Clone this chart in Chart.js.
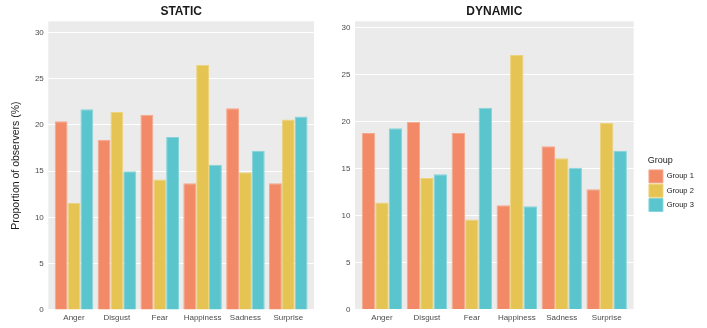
<!DOCTYPE html>
<html>
<head>
<meta charset="utf-8">
<script src="https://cdn.jsdelivr.net/npm/chart.js@4/dist/chart.umd.min.js"></script>
<style>
  body { margin: 0; background: #ffffff; }
  #wrap { position: relative; width: 707px; height: 328px; }
  canvas { position: absolute; top: 0; }
</style>
</head>
<body>
<div id="wrap">
  <canvas id="staticChart" width="330" height="328" style="left:0;width:330px;height:328px"></canvas>
  <canvas id="dynamicChart" width="377" height="328" style="left:330px;width:377px;height:328px"></canvas>
</div>
<script>
const categories = ['Anger', 'Disgust', 'Fear', 'Happiness', 'Sadness', 'Surprise'];
const groups = ['Group 1', 'Group 2', 'Group 3'];
const groupColors = ['#F28A68', '#E5C453', '#5BC5CD'];
const groupBorders = ['#F6A88C', '#EDD37D', '#86D4DA'];

const staticG1 = [20.4, 18.4, 21.1, 13.7, 21.8, 13.7];
const staticG2 = [11.6, 21.4, 14.1, 26.5, 14.9, 20.6];
const staticG3 = [21.7, 15.0, 18.7, 15.7, 17.2, 20.9];

const dynamicG1 = [18.8, 20.0, 18.8, 11.1, 17.4, 12.8];
const dynamicG2 = [11.4, 14.0, 9.6, 27.1, 16.1, 19.9];
const dynamicG3 = [19.3, 14.4, 21.5, 11.0, 15.1, 16.9];

const yTicks = [0, 5, 10, 15, 20, 25, 30];

Chart.defaults.font.family = '"Liberation Sans", Arial, Helvetica, sans-serif';
Chart.defaults.color = '#4D4D4D';

// grey ggplot-like panel
const panelBg = {
    id: 'panelBg',
    beforeDraw(chart) {
        const a = chart.chartArea;
        const ctx = chart.ctx;
        ctx.save();
        ctx.fillStyle = '#EBEBEB';
        ctx.fillRect(a.left, a.top, a.right - a.left, a.bottom - a.top);
        ctx.restore();
    }
};

function makeDatasets(series) {
    return series.map((vals, i) => ({
        label: groups[i],
        data: vals.map((v, j) => ({ x: j + 1, y: v })),
        backgroundColor: groupColors[i],
        borderColor: groupBorders[i],
        borderWidth: 1,
        categoryPercentage: 0.9,
        barPercentage: 1
    }));
}

function makeOptions(title, yMax, yWidth, showYTitle, xHeight) {
    return {
        responsive: false,
        animation: false,
        devicePixelRatio: 1,
        layout: { padding: { left: 0, right: 0, top: 0, bottom: 0 } },
        plugins: {
            title: {
                display: true,
                text: title,
                fullSize: false,
                color: '#1A1A1A',
                font: { size: 12, weight: 'bold' },
                padding: { top: 4.3, bottom: 2.6 }
            },
            legend: { display: false },
            tooltip: { enabled: false }
        },
        scales: {
            x: {
                type: 'linear',
                min: 0.4,
                max: 6.6,
                offset: false,
                grid: { display: false, offset: false, drawTicks: false },
                border: { display: false },
                afterBuildTicks(scale) {
                    scale.ticks = categories.map((c, i) => ({ value: i + 1 }));
                },
                afterFit(scale) { scale.height = xHeight; },
                ticks: {
                    autoSkip: false,
                    maxRotation: 0,
                    padding: 3,
                    color: '#4D4D4D',
                    font: { size: 8 },
                    callback: (v) => categories[v - 1]
                }
            },
            y: {
                min: 0,
                max: yMax,
                grid: { color: '#FFFFFF', lineWidth: 1.1, drawTicks: false },
                border: { display: false },
                afterBuildTicks(scale) {
                    scale.ticks = yTicks.map(v => ({ value: v }));
                },
                afterFit(scale) { scale.width = yWidth; },
                ticks: { padding: 4.5, color: '#4D4D4D', font: { size: 8 } },
                title: {
                    display: showYTitle,
                    text: 'Proportion of observers (%)',
                    color: '#1A1A1A',
                    font: { size: 10.5 },
                    padding: { top: 9.7, bottom: 0 }
                }
            }
        }
    };
}

// STATIC panel
const staticOpts = makeOptions('STATIC', 31.2, 48.3, true, 18);
staticOpts.layout.padding.right = 16;
new Chart(document.getElementById('staticChart'), {
    type: 'bar',
    data: { datasets: makeDatasets([staticG1, staticG2, staticG3]) },
    options: staticOpts,
    plugins: [panelBg]
});

// DYNAMIC panel, with the legend on its right
const dynamicOpts = makeOptions('DYNAMIC', 30.7, 25, false, 18.5);
dynamicOpts.layout.padding.right = 3.2;
dynamicOpts.scales.gap = {
    type: 'linear',
    position: 'right',
    display: true,
    grid: { display: false, drawTicks: false },
    border: { display: false },
    ticks: { display: false },
    afterFit(scale) { scale.width = 14; }
};
dynamicOpts.plugins.legend = {
    display: true,
    position: 'right',
    fullSize: false,
    align: 'center',
    title: {
        display: true,
        text: 'Group',
        position: 'start',
        color: '#1A1A1A',
        font: { size: 9 },
        padding: { top: 38.4, bottom: 1.4 }
    },
    labels: {
        boxWidth: 14,
        boxHeight: 13,
        padding: 1.3,
        color: '#1A1A1A',
        font: { size: 7.5 }
    }
};
new Chart(document.getElementById('dynamicChart'), {
    type: 'bar',
    data: { datasets: makeDatasets([dynamicG1, dynamicG2, dynamicG3]) },
    options: dynamicOpts,
    plugins: [panelBg]
});
</script>
</body>
</html>
